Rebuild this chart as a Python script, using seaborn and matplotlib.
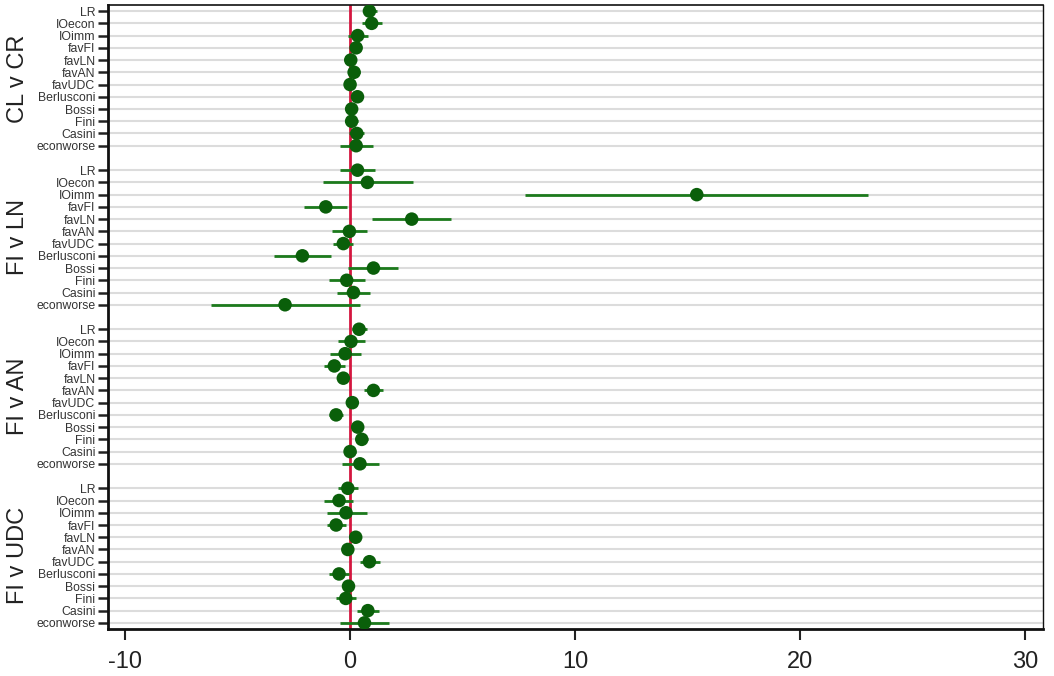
import numpy as np
import pandas as pd
import matplotlib
matplotlib.use("Agg")
import matplotlib.pyplot as plt
import seaborn as sns

variables = ["LR", "IOecon", "IOimm", "favFI", "favLN", "favAN", "favUDC",
             "Berlusconi", "Bossi", "Fini", "Casini", "econworse"]
groups = ["CL v CR", "FI v LN", "FI v AN", "FI v UDC"]

est_cl_cr = [0.86, 0.96, 0.34, 0.27, 0.03, 0.18, 0.00, 0.33, 0.07, 0.07, 0.30, 0.27]
lo_cl_cr = [0.59, 0.52, -0.07, 0.05, -0.20, -0.05, -0.24, 0.08, -0.17, -0.22, -0.04, -0.44]
hi_cl_cr = [1.21, 1.41, 0.79, 0.50, 0.26, 0.42, 0.24, 0.58, 0.31, 0.37, 0.64, 1.01]

est_fi_ln = [0.33, 0.77, 15.41, -1.08, 2.74, -0.03, -0.30, -2.12, 1.04, -0.15, 0.15, -2.89]
lo_fi_ln = [-0.44, -1.19, 7.78, -2.07, 0.99, -0.81, -0.74, -3.38, -0.07, -0.92, -0.59, -6.19]
hi_fi_ln = [1.11, 2.79, 23.00, -0.12, 4.49, 0.74, 0.15, -0.84, 2.15, 0.67, 0.89, 0.44]

est_fi_an = [0.40, 0.04, -0.22, -0.70, -0.30, 1.04, 0.10, -0.62, 0.34, 0.52, 0.00, 0.44]
lo_fi_an = [0.07, -0.55, -0.89, -1.14, -0.52, 0.64, -0.12, -0.92, 0.12, 0.25, -0.25, -0.37]
hi_fi_an = [0.74, 0.67, 0.49, -0.22, -0.08, 1.45, 0.32, -0.30, 0.56, 0.80, 0.25, 1.29]

est_fi_udc = [-0.10, -0.49, -0.18, -0.62, 0.25, -0.10, 0.86, -0.49, -0.07, -0.19, 0.79, 0.64]
lo_fi_udc = [-0.52, -1.16, -1.04, -1.01, 0.03, -0.32, 0.44, -0.92, -0.29, -0.62, 0.33, -0.44]
hi_fi_udc = [0.34, 0.15, 0.74, -0.18, 0.47, 0.12, 1.33, -0.04, 0.15, 0.25, 1.29, 1.75]

x_ticks = [-10, 0, 10, 20, 30]

ests = [est_cl_cr, est_fi_ln, est_fi_an, est_fi_udc]
los = [lo_cl_cr, lo_fi_ln, lo_fi_an, lo_fi_udc]
his = [hi_cl_cr, hi_fi_ln, hi_fi_an, hi_fi_udc]

rows = []
for g, name in enumerate(groups):
    for i, v in enumerate(variables):
        rows.append({"group": name, "var": v, "pos": g * (len(variables) + 1) + i,
                     "est": ests[g][i], "lo": los[g][i], "hi": his[g][i]})
df = pd.DataFrame(rows)

sns.set_theme(style="white")
plt.rcParams["font.family"] = ["Liberation Sans", "DejaVu Sans"]

fig = plt.figure(figsize=(10.54, 6.76), dpi=100)
ax = fig.add_axes([108 / 1054, 1 - 629 / 676, (1043 - 108) / 1054, (629 - 5) / 676])

ax.set_yticks(df["pos"])
ax.set_yticklabels(df["var"], fontsize=8.8, color="#333333")
ax.yaxis.grid(True, color="#dcdcdc", linewidth=1.5)
ax.xaxis.grid(False)
ax.set_axisbelow(True)

ax.axvline(0, color="#d4163f", linewidth=2, zorder=2)
ax.hlines(df["pos"], df["lo"], df["hi"], color="#1c7a1c", linewidth=2, zorder=3)
sns.scatterplot(data=df, x="est", y="pos", ax=ax, color="#0a5f0a", s=95,
                edgecolor="none", zorder=4, legend=False)

ax.set_xlim(-10.76, 30.8)
ax.set_ylim(df["pos"].max() + 0.5, -0.5)
ax.set_xticks(x_ticks)
ax.set_xticklabels([str(t) for t in x_ticks], fontsize=17, color="#222222")
ax.set_xlabel("")
ax.set_ylabel("")

ax.tick_params(axis="y", which="major", length=7, width=1.8, color="#222222",
               left=True, pad=2)
ax.tick_params(axis="x", which="major", length=8, width=1.5, color="#222222",
               bottom=True, pad=8)

for side, lw in [("left", 2.0), ("bottom", 2.0), ("top", 1.2), ("right", 1.0)]:
    ax.spines[side].set_visible(True)
    ax.spines[side].set_color("#111111")
    ax.spines[side].set_linewidth(lw)

for g, name in enumerate(groups):
    sub = df[df["group"] == name]["pos"]
    center = (sub.min() + sub.max()) / 2
    ax.text(-0.096, center, name, transform=ax.get_yaxis_transform(),
            rotation=90, ha="center", va="center", fontsize=17, color="#222222")

fig.savefig("out.png", dpi=100)
